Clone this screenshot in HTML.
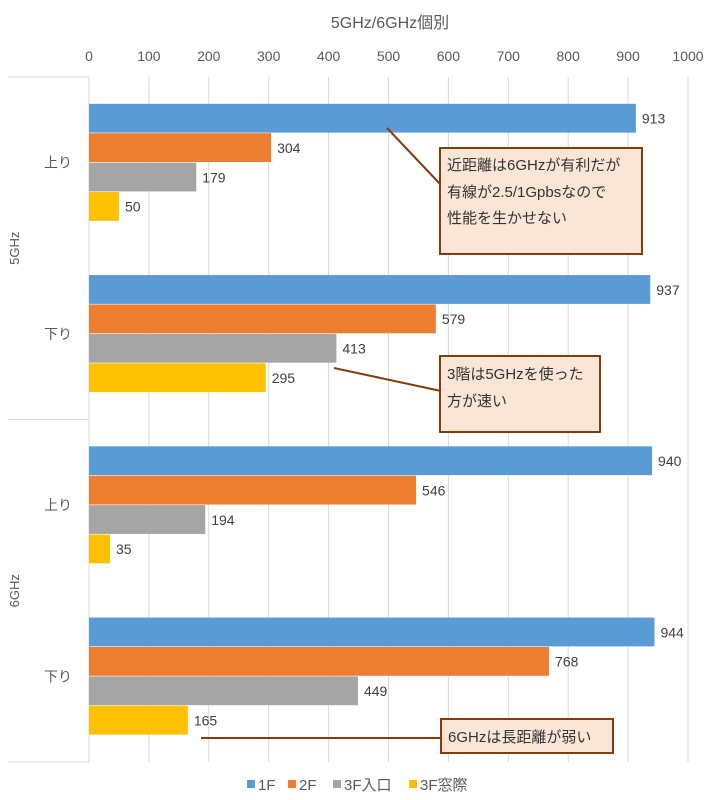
<!DOCTYPE html>
<html><head><meta charset="utf-8"><style>
body{margin:0;background:#fff;}
svg{display:block;font-family:"Liberation Sans","Noto Sans CJK JP",sans-serif;}
</style></head><body>
<svg id="chart" width="715" height="800" viewBox="0 0 715 800">
<text x="390" y="28" font-size="16" fill="#595959" text-anchor="middle">5GHz/6GHz個別</text>
<g id="grid"></g>
<g id="bars"></g>
<g id="labels"></g>
<g id="callouts">
<line x1="387" y1="128" x2="441" y2="185" stroke="#843c0c" stroke-width="2"/>
<rect x="440" y="148" width="202" height="106" fill="#fbe5d6" stroke="#843c0c" stroke-width="2"/>
<text font-size="15" fill="#333"><tspan x="447" y="170">近距離は6GHzが有利だが</tspan><tspan x="447" y="197">有線が2.5/1Gpbsなので</tspan><tspan x="447" y="223">性能を生かせない</tspan></text>
<line x1="334" y1="368" x2="441" y2="391" stroke="#843c0c" stroke-width="2"/>
<rect x="440" y="356" width="160" height="76" fill="#fbe5d6" stroke="#843c0c" stroke-width="2"/>
<text font-size="15" fill="#333"><tspan x="447" y="379">3階は5GHzを使った</tspan><tspan x="447" y="406">方が速い</tspan></text>
<line x1="201" y1="738" x2="442" y2="738" stroke="#843c0c" stroke-width="2"/>
<rect x="441" y="719" width="172" height="34" fill="#fbe5d6" stroke="#843c0c" stroke-width="2"/>
<text x="448" y="742" font-size="15" fill="#333">6GHzは長距離が弱い</text>
</g>
<g id="legend"></g>
</svg>
<script>
const categories=["上り","下り","上り","下り"];
const groups=["5GHz","6GHz"];
const seriesNames=["1F","2F","3F入口","3F窓際"];
const s1F=[913,937,940,944];
const s2F=[304,579,546,768];
const s3Fentrance=[179,413,194,449];
const s3Fwindow=[50,295,35,165];
const ticks=[0,100,200,300,400,500,600,700,800,900,1000];
const colors=["#5b9bd5","#ed7d31","#a5a5a5","#ffc000"];
const series=[s1F,s2F,s3Fentrance,s3Fwindow];
const NS="http://www.w3.org/2000/svg";
const x0=89,x1=688,yTop=77,yBottom=762;
const xs=v=>x0+(x1-x0)*v/1000;
const catH=(yBottom-yTop)/categories.length;
const barH=29.4;
function mk(tag,attrs,parent,txt){const e=document.createElementNS(NS,tag);for(const k in attrs)e.setAttribute(k,attrs[k]);if(txt!==undefined)e.textContent=txt;parent.appendChild(e);return e;}
const grid=document.getElementById('grid'),bars=document.getElementById('bars'),labels=document.getElementById('labels'),legend=document.getElementById('legend');
ticks.forEach(t=>{
  const l=mk('line',{x1:xs(t),x2:xs(t),y1:yTop,y2:yBottom,stroke:'#d9d9d9','stroke-width':1},grid);
  
  
  const tx=mk('text',{x:xs(t),y:61,'font-size':14,fill:'#595959','text-anchor':'middle'},grid,String(t));
  
  
});
[yTop,(yTop+yBottom)/2,yBottom].forEach(y=>{
  const l=mk('line',{x1:8,x2:x0,y1:y,y2:y,stroke:'#d9d9d9','stroke-width':1},grid);
  
  
});
groups.forEach((g,i)=>{
  const cy=yTop+catH*(2*i+1);
  const t=mk('text',{x:0,y:0,'font-size':13,fill:'#595959','text-anchor':'middle',transform:`translate(19,${cy}) rotate(-90)`},grid,g);
  
  
});
categories.forEach((c,ci)=>{
  const ct=yTop+catH*ci;
  const t=mk('text',{x:72,y:ct+catH/2+5,'font-size':14,fill:'#595959','text-anchor':'end'},labels,c);
  
  
  const bt=ct+(catH-barH*4)/2;
  series.forEach((s,si)=>{
    const v=s[ci];const y=bt+barH*si;
    const r=mk('rect',{x:x0,y:y,width:xs(v)-x0,height:barH-0.6,fill:colors[si]},bars);
    
    
    const vl=mk('text',{x:xs(v)+6,y:y+barH/2+5,'font-size':14,fill:'#404040'},labels,String(v));
    
    
  });
});
const lx=[247,288,333,409];
seriesNames.forEach((n,i)=>{
  const r=mk('rect',{x:lx[i],y:780,width:8,height:8,fill:colors[i]},legend);
  
  
  const t=mk('text',{x:lx[i]+11,y:790,'font-size':15,fill:'#595959'},legend,n);
  
  
});
</script>
</body></html>
